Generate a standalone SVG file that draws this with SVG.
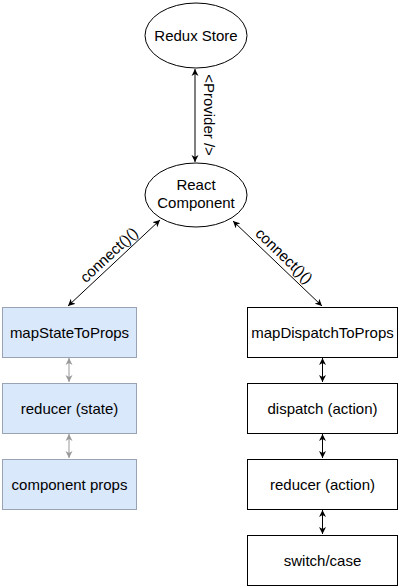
<svg xmlns="http://www.w3.org/2000/svg" width="401" height="588" viewBox="0 0 401 588">
<style>
text{font-family:"Liberation Sans",Arial,sans-serif;font-size:15px;fill:#000;text-anchor:middle}
.ell{fill:#fff;stroke:#000;stroke-width:1}
.boxb{fill:#dae8fc;stroke:#9aa3b3;stroke-width:1}
.boxw{fill:#fff;stroke:#000;stroke-width:1}
.ln{stroke:#000;stroke-width:1;fill:none}
.lg{stroke:#999;stroke-width:1;fill:none}
</style>
<defs>
<marker id="ab" markerUnits="userSpaceOnUse" markerWidth="8" markerHeight="8" refX="7" refY="4" orient="auto-start-reverse" viewBox="0 0 8 8">
<path d="M0,0.5 L7,4 L0,7.5 L2,4 z" fill="#000"/>
</marker>
<marker id="ag" markerUnits="userSpaceOnUse" markerWidth="8" markerHeight="8" refX="7" refY="4" orient="auto-start-reverse" viewBox="0 0 8 8">
<path d="M0,0.5 L7,4 L0,7.5 L2,4 z" fill="#999"/>
</marker>
</defs>
<rect width="401" height="588" fill="#fff"/>
<g id="connectors">
<line class="ln" x1="195" y1="69" x2="195" y2="162" marker-start="url(#ab)" marker-end="url(#ab)"/>
<text transform="translate(204,115) rotate(90)" dy="0">&lt;Provider /&gt;</text>
<line class="ln" x1="160" y1="220" x2="68" y2="306" marker-start="url(#ab)" marker-end="url(#ab)"/>
<text transform="translate(109,255) rotate(-43)" dy="5">connect()()</text>
<line class="ln" x1="233" y1="221" x2="322" y2="306" marker-start="url(#ab)" marker-end="url(#ab)"/>
<text transform="translate(284,256) rotate(44)" dy="5">connect()()</text>
<line class="lg" x1="69" y1="358" x2="69" y2="382" marker-start="url(#ag)" marker-end="url(#ag)"/>
<line class="lg" x1="69" y1="434" x2="69" y2="458" marker-start="url(#ag)" marker-end="url(#ag)"/>
<line class="ln" x1="322.5" y1="358" x2="322.5" y2="382" marker-start="url(#ab)" marker-end="url(#ab)"/>
<line class="ln" x1="322.5" y1="434" x2="322.5" y2="458" marker-start="url(#ab)" marker-end="url(#ab)"/>
<line class="ln" x1="322.5" y1="510" x2="322.5" y2="534" marker-start="url(#ab)" marker-end="url(#ab)"/>
</g>
<g id="redux-store">
<ellipse class="ell" cx="196" cy="35.5" rx="51" ry="32.5"/>
<text x="196" y="40.5">Redux Store</text>
</g>
<g id="react-component">
<ellipse class="ell" cx="196" cy="195" rx="51" ry="32"/>
<text x="196" y="190">React</text>
<text x="196" y="208">Component</text>
</g>
<g id="map-state">
<rect class="boxb" x="2.5" y="307.5" width="134" height="50"/>
<text x="69.5" y="337.5">mapStateToProps</text>
</g>
<g id="reducer-state">
<rect class="boxb" x="2.5" y="383.5" width="134" height="50"/>
<text x="69.5" y="413.5">reducer (state)</text>
</g>
<g id="component-props">
<rect class="boxb" x="2.5" y="459.5" width="134" height="50"/>
<text x="69.5" y="489.5">component props</text>
</g>
<g id="map-dispatch">
<rect class="boxw" x="247.5" y="307.5" width="150" height="50"/>
<text x="322.5" y="337.5">mapDispatchToProps</text>
</g>
<g id="dispatch-action">
<rect class="boxw" x="247.5" y="383.5" width="150" height="50"/>
<text x="322.5" y="413.5">dispatch (action)</text>
</g>
<g id="reducer-action">
<rect class="boxw" x="247.5" y="459.5" width="150" height="50"/>
<text x="322.5" y="489.5">reducer (action)</text>
</g>
<g id="switch-case">
<rect class="boxw" x="247.5" y="535.5" width="150" height="50"/>
<text x="322.5" y="565.5">switch/case</text>
</g>
</svg>
